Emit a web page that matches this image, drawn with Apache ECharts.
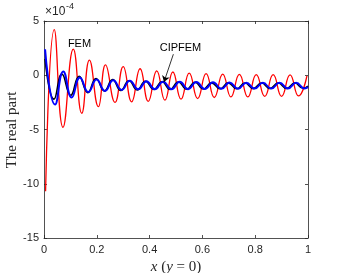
<!DOCTYPE html>
<html><head><meta charset="utf-8">
<script src="https://cdn.jsdelivr.net/npm/echarts@6/dist/echarts.min.js"></script>
<style>html,body{margin:0;padding:0;background:#fff}#c{width:341px;height:273px}</style>
</head><body><div id="c"></div>
<script>
// values in units of 1e-4
const femX = [0.006,0.039,0.072,0.111,0.143,0.172,0.206,0.233,0.269,0.300,0.332,0.364,0.395,0.427,0.458,0.488,0.519,0.550,0.582,0.614,0.645,0.677,0.708,0.740,0.772,0.804,0.836,0.868,0.900,0.932,0.964,0.996];
const femY = [-10.7,4.2,-4.8,2.4,-3.5,1.4,-2.9,0.95,-2.5,0.8,-2.45,0.6,-2.4,0.4,-2.3,0.3,-2.2,0.2,-2.15,0.15,-2.05,0.1,-2.0,0.08,-2.0,0.06,-1.95,0.05,-1.95,0.03,-1.9,-0.05];
const exactX = [0.004,0.038,0.068,0.101,0.133,0.166,0.197,0.229,0.260,0.291,0.322,0.353,0.384,0.416,0.447,0.478,0.509,0.541,0.572,0.604,0.635,0.667,0.698,0.730,0.761,0.793,0.824,0.856,0.887,0.919,0.950,0.982,1.0];
const exactY = [1.5,-2.2,0.1,-1.85,-0.1,-1.6,-0.3,-1.45,-0.4,-1.4,-0.5,-1.35,-0.55,-1.3,-0.6,-1.3,-0.62,-1.28,-0.65,-1.27,-0.7,-1.25,-0.7,-1.25,-0.72,-1.23,-0.72,-1.22,-0.72,-1.22,-0.72,-1.2,-1.0];
const cipX = [0.004,0.042,0.073,0.105,0.136,0.168,0.199,0.231,0.262,0.294,0.325,0.357,0.388,0.420,0.451,0.483,0.514,0.546,0.577,0.609,0.640,0.672,0.703,0.735,0.766,0.798,0.829,0.861,0.892,0.924,0.955,0.987,1.0];
const cipY = [2.4,-2.7,0.35,-2.05,-0.2,-1.55,-0.4,-1.45,-0.45,-1.35,-0.5,-1.3,-0.55,-1.3,-0.6,-1.3,-0.6,-1.28,-0.62,-1.27,-0.65,-1.25,-0.67,-1.25,-0.68,-1.23,-0.7,-1.23,-0.7,-1.22,-0.7,-1.22,-1.1];
const xTicks = [0,0.2,0.4,0.6,0.8,1];
const yTicks = [-15,-10,-5,0,5];
const femLabel = {text:'FEM', x:0.1345, y:2.9};
const cipLabel = {text:'CIPFEM', x:0.517, y:2.53};
const arrowFrom = [0.49, 1.94];
const arrowTo = [0.4545, -0.62];
const yTitle = 'The real part';

const zip = (xs, ys) => xs.map((x, i) => [x, ys[i]]);
const AX = '#262626';
const FONT = '"Liberation Sans", Arial, sans-serif';
const SERIF = '"Liberation Serif", "DejaVu Serif", serif';

const chart = echarts.init(document.getElementById('c'), null, {renderer:'canvas'});
const xCommon = {type:'value', min:xTicks[0], max:xTicks[xTicks.length-1], interval:0.2,
  splitLine:{show:false}, axisLine:{show:true, onZero:false, lineStyle:{color:AX, width:0.8}},
  axisTick:{show:true, inside:true, length:3, lineStyle:{color:AX, width:0.8}}};
const yCommon = {type:'value', min:yTicks[0], max:yTicks[yTicks.length-1], interval:5,
  splitLine:{show:false}, axisLine:{show:true, onZero:false, lineStyle:{color:AX, width:0.8}},
  axisTick:{show:true, inside:true, length:3, lineStyle:{color:AX, width:0.8}}};

chart.setOption({
  animation:false,
  backgroundColor:'#fff',
  grid:{left:44, right:33, top:21, bottom:35, containLabel:false, outerBoundsMode:'none'},
  xAxis:[
    Object.assign({}, xCommon, {position:'bottom',
      axisLabel:{color:AX, fontFamily:FONT, fontSize:11, margin:6, formatter:v=>String(+v.toFixed(1))},
      name:'{i|x} ({i|y} = 0)', nameLocation:'middle', nameGap:19,
      nameTextStyle:{color:AX, fontFamily:SERIF, fontSize:15,
        rich:{i:{fontStyle:'italic', fontFamily:SERIF, fontSize:15, color:AX}}}}),
    Object.assign({}, xCommon, {position:'top', axisLabel:{show:false}})
  ],
  yAxis:[
    Object.assign({}, yCommon, {position:'left',
      axisLabel:{color:AX, fontFamily:FONT, fontSize:11, margin:5, formatter:v=>String(v)}}),
    Object.assign({}, yCommon, {position:'right', axisLabel:{show:false}})
  ],
  graphic:[
    {type:'text', left:45, top:6, style:{text:'×10', fill:AX, font:'12px '+FONT}},
    {type:'text', left:66, top:2, style:{text:'-4', fill:AX, font:'9px '+FONT}},
    {type:'text', x:12, y:130, rotation:Math.PI/2,
      style:{text:yTitle, fill:AX, font:'15px '+SERIF, align:'center', verticalAlign:'middle'}}
  ],
  series:[
    {type:'line', name:'FEM', data:zip(femX, femY), smooth:0.5, showSymbol:false,
      lineStyle:{color:'#ff0000', width:1.3}, z:2,
      markPoint:{symbol:'circle', symbolSize:0, silent:true,
        label:{show:true, position:'inside', color:'#000', fontFamily:FONT, fontSize:11, formatter:'{b}'},
        data:[{name:femLabel.text, coord:[femLabel.x, femLabel.y]}, {name:cipLabel.text, coord:[cipLabel.x, cipLabel.y]}]}},
    {type:'line', name:'exact', data:zip(exactX, exactY), smooth:0.5, showSymbol:false,
      lineStyle:{color:'#000000', width:1.6}, z:3},
    {type:'line', name:'CIPFEM', data:zip(cipX, cipY), smooth:0.5, showSymbol:false,
      lineStyle:{color:'#0000ff', width:2}, z:4,
      markLine:{silent:true, symbol:['none','arrow'], symbolSize:6, label:{show:false},
        lineStyle:{color:'#000', width:0.8, type:'solid'},
        data:[[{coord:arrowFrom}, {coord:arrowTo}]]}}
  ]
});
</script></body></html>
